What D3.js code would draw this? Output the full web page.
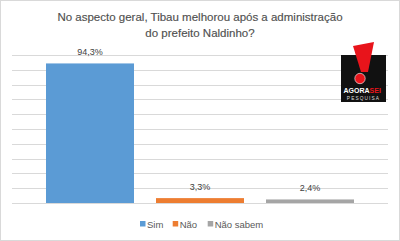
<!DOCTYPE html>
<html><head><meta charset="utf-8">
<script src="https://cdn.jsdelivr.net/npm/d3@7"></script>
<style>html,body{margin:0;padding:0;background:#fff;}svg{display:block;}</style>
</head><body>
<script>
const categories = ["Sim", "Não", "Não sabem"];
const values = [94.3, 3.3, 2.4];
const valueLabels = ["94,3%", "3,3%", "2,4%"];
const colors = ["#5b9bd5", "#ed7d31", "#a5a5a5"];
const gridTicks = [0,10,20,30,40,50,60,70,80,90,100];
const titleLines = ["No aspecto geral, Tibau melhorou após a administração", "do prefeito Naldinho?"];

const W = 400, H = 241;
const svg = d3.select("body").append("svg").attr("width", W).attr("height", H);
svg.append("rect").attr("x",0.5).attr("y",0.5).attr("width",W-1).attr("height",H-1)
  .attr("fill","#fff").attr("stroke","#d9d9d9");

const font = "Liberation Sans, Arial, sans-serif";
const x = d3.scaleBand().domain(categories).range([35,365]).paddingInner(0.2).paddingOuter(0.1);
const y = d3.scaleLinear().domain([0,100]).range([203,55]);

// gridlines
svg.append("g").selectAll("line").data(gridTicks).join("line")
  .attr("x1",12).attr("x2",388).attr("y1",d=>Math.round(y(d))+0.5).attr("y2",d=>Math.round(y(d))+0.5)
  .attr("stroke","#d9d9d9").attr("stroke-width",1);

// bars
svg.append("g").selectAll("rect").data(categories).join("rect")
  .attr("x",d=>x(d)).attr("width",x.bandwidth())
  .attr("y",(d,i)=>y(values[i])).attr("height",(d,i)=>y(0)-y(values[i]))
  .attr("fill",(d,i)=>colors[i]);

// labels
svg.append("g").selectAll("text").data(categories).join("text")
  .attr("x",d=>x(d)+x.bandwidth()/2).attr("y",(d,i)=>y(values[i])-8)
  .attr("text-anchor","middle").attr("font-family",font).attr("font-size",9)
  .attr("fill","#404040").text((d,i)=>valueLabels[i]);

// title
svg.append("g").selectAll("text").data(titleLines).join("text")
  .attr("x",200).attr("y",(d,i)=>21+i*15.5).attr("text-anchor","middle")
  .attr("font-family",font).attr("font-size",11.5).attr("fill","#505050")
  .attr("stroke","#505050").attr("stroke-width",0.15).text(d=>d);

// legend
const legX = [140, 172.7, 207.7];
const leg = svg.append("g");
categories.forEach((c,i)=>{
  leg.append("rect").attr("x",legX[i]).attr("y",221).attr("width",5.5).attr("height",5.5).attr("fill",colors[i]);
  leg.append("text").attr("x",legX[i]+7).attr("y",228).attr("font-family",font).attr("font-size",9.5)
    .attr("fill","#595959").text(c);
});

// logo
const lg = svg.append("g").attr("transform","translate(341,55)");
lg.append("rect").attr("width",45).attr("height",47).attr("fill","#111");
lg.append("path").attr("d","M12,-9 L33,-13 L27,17 L20,17 Z").attr("fill","#e8141b");
lg.append("circle").attr("cx",19).attr("cy",23.5).attr("r",5.2).attr("fill","#e8141b").attr("stroke","#fff").attr("stroke-width",0.6);
lg.append("text").attr("x",2.5).attr("y",38).attr("font-family",font).attr("font-weight","bold")
  .attr("font-size",7).attr("fill","#fff").text("AGORA")
  .append("tspan").attr("fill","#e8141b").text("SEI");
lg.append("text").attr("x",22.5).attr("y",44.5).attr("text-anchor","middle").attr("font-family",font)
  .attr("font-size",4.8).attr("letter-spacing",1.1).attr("fill","#ddd").text("PESQUISA");
</script>
</body></html>
